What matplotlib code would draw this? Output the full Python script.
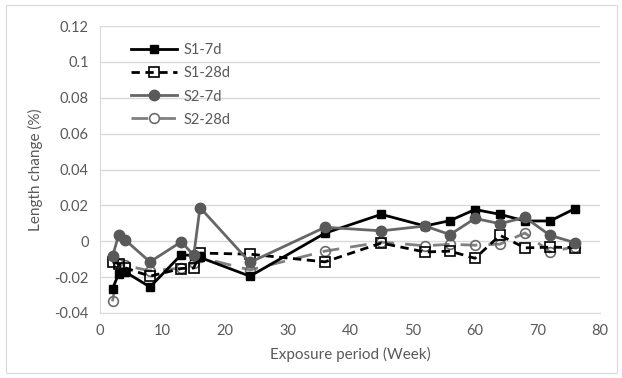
import matplotlib
matplotlib.use("Agg")
import matplotlib.pyplot as plt
from matplotlib.patches import Rectangle

# exposure time (weeks) shared by all series
weeks = [2, 3, 4, 8, 13, 15, 16, 24, 36, 45, 52, 56, 60, 64, 68, 72, 76]

s1_7d = [-0.0265, -0.018, -0.017, -0.0255, -0.0075, -0.008, -0.009, -0.0195,
         0.0045, 0.015, 0.0085, 0.0115, 0.0177, 0.015, 0.0113, 0.0113, 0.0182]
s1_28d = [-0.0115, -0.0125, -0.0148, -0.0195, -0.0152, -0.0149, -0.0066, -0.0072,
          -0.0115, -0.001, -0.006, -0.0055, -0.0095, 0.0033, -0.0037, -0.0033, -0.0035]
s2_7d = [-0.0085, 0.0037, 0.0008, -0.0115, -0.0003, -0.0078, 0.0188, -0.0118,
         0.0078, 0.0058, 0.0085, 0.0037, 0.0127, 0.0098, 0.0133, 0.0033, -0.0008]
s2_28d = [-0.0335, -0.0125, -0.0135, -0.0165, -0.015, -0.012, -0.009, -0.016,
          -0.0055, -0.0005, -0.0025, -0.0017, -0.0022, -0.0016, 0.0046, -0.006, -0.003]

series_names = ["S1-7d", "S1-28d", "S2-7d", "S2-28d"]
y_ticks = [-0.04, -0.02, 0, 0.02, 0.04, 0.06, 0.08, 0.1, 0.12]
y_tick_labels = ["-0.04", "-0.02", "0", "0.02", "0.04", "0.06", "0.08", "0.1", "0.12"]
x_ticks = [0, 10, 20, 30, 40, 50, 60, 70, 80]

plt.rcParams["font.family"] = ["Lato", "DejaVu Sans"]
TXT = "#595959"

fig = plt.figure(figsize=(6.22, 3.78), dpi=100)
fig.patches.append(Rectangle((0.009, 0.013), 0.983, 0.975, transform=fig.transFigure,
                             fill=False, edgecolor="#d9d9d9", linewidth=0.8))
ax = fig.add_axes([100 / 622, 65 / 378, 500 / 622, 287 / 378])

ax.plot(weeks, s1_7d, "-", color="black", lw=2.0, marker="s", ms=5.5,
        mfc="black", mec="black", label=series_names[0], zorder=4)
ax.plot(weeks, s1_28d, color="black", lw=2.0, ls=(0, (3, 2)), marker="s", ms=6.5,
        mfc="none", mec="black", mew=1.2, label=series_names[1], zorder=3)
ax.plot(weeks, s2_7d, "-", color="#666666", lw=2.0, marker="o", ms=7.5,
        mfc="#595959", mec="#595959", label=series_names[2], zorder=5)
ax.plot(weeks, s2_28d, color="#808080", lw=2.0, ls=(0, (6, 4)), marker="o", ms=7,
        mfc="none", mec="#6b6b6b", mew=1.2, label=series_names[3], zorder=2)

ax.set_xlim(0, 80)
ax.set_ylim(-0.04, 0.12)
ax.set_xticks(x_ticks)
ax.set_yticks(y_ticks)
ax.set_yticklabels(y_tick_labels)
ax.grid(axis="y", color="#d9d9d9", lw=1.0)
ax.set_axisbelow(True)
for side in ("top", "right"):
    ax.spines[side].set_visible(False)
for side in ("left", "bottom"):
    ax.spines[side].set_color("#d9d9d9")
ax.tick_params(length=0, labelsize=10.5, colors=TXT, pad=8)

ax.set_xlabel("Exposure period (Week)", fontsize=11, color=TXT, labelpad=6)
ax.set_ylabel("Length change (%)", fontsize=11, color=TXT, labelpad=8)

leg = ax.legend(loc="upper left", bbox_to_anchor=(0.035, 0.985), frameon=False,
                fontsize=10.5, handlelength=3.2, labelspacing=0.62, handletextpad=0.4,
                labelcolor=TXT)

fig.savefig("out.png", dpi=100)
